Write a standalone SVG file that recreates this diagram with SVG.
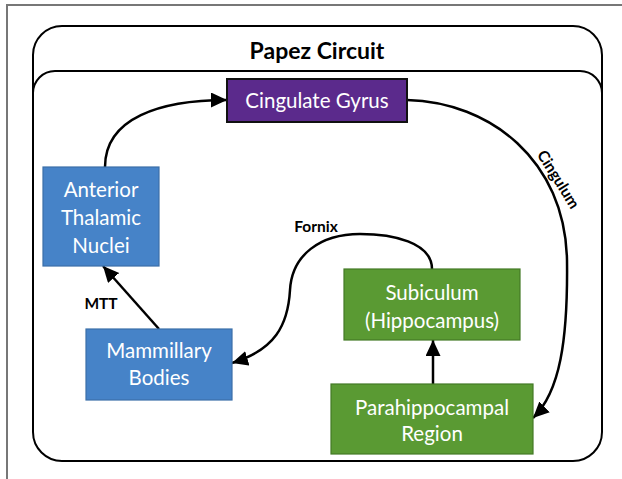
<svg xmlns="http://www.w3.org/2000/svg" width="622" height="479" viewBox="0 0 622 479">
<style>
.frame{fill:none;stroke:#000;stroke-width:2}
.node text{font-family:Lato,"Open Sans","Liberation Sans",sans-serif;fill:#fff;font-size:20.5px;text-anchor:middle;dominant-baseline:central}
.blue{fill:#4683C8;stroke:#3B6FA8;stroke-width:1.2}
.green{fill:#5A9A33;stroke:#437A26;stroke-width:1.2}
.purple{fill:#5B2A8C;stroke:#111;stroke-width:2}
.conn{fill:none;stroke:#000;stroke-width:2.5;marker-end:url(#ah)}
.lbl{font-family:Lato,"Open Sans","Liberation Sans",sans-serif;font-weight:bold;font-size:15.5px;fill:#000}
</style>
<defs>
<marker id="ah" markerUnits="userSpaceOnUse" markerWidth="18" markerHeight="16" refX="16" refY="7.5" orient="auto">
<path d="M0,0 L16,7.5 L0,15 Z" fill="#000"/>
</marker>
</defs>
<rect width="622" height="479" fill="#fff"/>
<path d="M7,479 V5 H622" fill="none" stroke="#777" stroke-width="2"/>
<g id="container">
<rect class="frame" x="33" y="26" width="569" height="435" rx="29"/>
<path class="frame" d="M33,120 V93 A22,22 0 0 1 55,71 H580 A22,22 0 0 1 602,93 V120"/>
<text x="317" y="50" font-family="Lato,'Open Sans','Liberation Sans',sans-serif" font-weight="bold" font-size="23px" text-anchor="middle" dominant-baseline="central">Papez Circuit</text>
</g>
<g id="connectors">
<path class="conn" d="M105,167 C105,118 160,100 227,100"/>
<path class="conn" d="M407,100 C490,102 565,160 567,260 C568,340 560,392 533,418"/>
<path class="conn" d="M432,269 C432,242 392,234 360,234 C320,234 292,255 290,290 C288,325 275,350 232,363"/>
<path class="conn" d="M159,329 L103,266"/>
<path class="conn" d="M433,384 L433,340"/>
<text class="lbl" x="316" y="226" text-anchor="middle" dominant-baseline="central">Fornix</text>
<text class="lbl" x="101" y="303" text-anchor="middle" dominant-baseline="central">MTT</text>
<text class="lbl" x="559" y="179" text-anchor="middle" dominant-baseline="central" transform="rotate(58 559 179)">Cingulum</text>
</g>
<g id="cingulate" class="node">
<rect class="purple" x="227" y="79" width="180" height="43"/>
<text x="317" y="100">Cingulate Gyrus</text>
</g>
<g id="anterior" class="node">
<rect class="blue" x="43" y="167" width="116" height="99"/>
<text x="101" y="189">Anterior</text>
<text x="101" y="217">Thalamic</text>
<text x="101" y="245">Nuclei</text>
</g>
<g id="mammillary" class="node">
<rect class="blue" x="86" y="329" width="146" height="71"/>
<text x="159" y="350">Mammillary</text>
<text x="159" y="377">Bodies</text>
</g>
<g id="subiculum" class="node">
<rect class="green" x="344" y="269" width="176" height="71"/>
<text x="432" y="292">Subiculum</text>
<text x="432" y="320">(Hippocampus)</text>
</g>
<g id="parahippocampal" class="node">
<rect class="green" x="331" y="384" width="202" height="70"/>
<text x="432" y="407">Parahippocampal</text>
<text x="432" y="433">Region</text>
</g>
</svg>
